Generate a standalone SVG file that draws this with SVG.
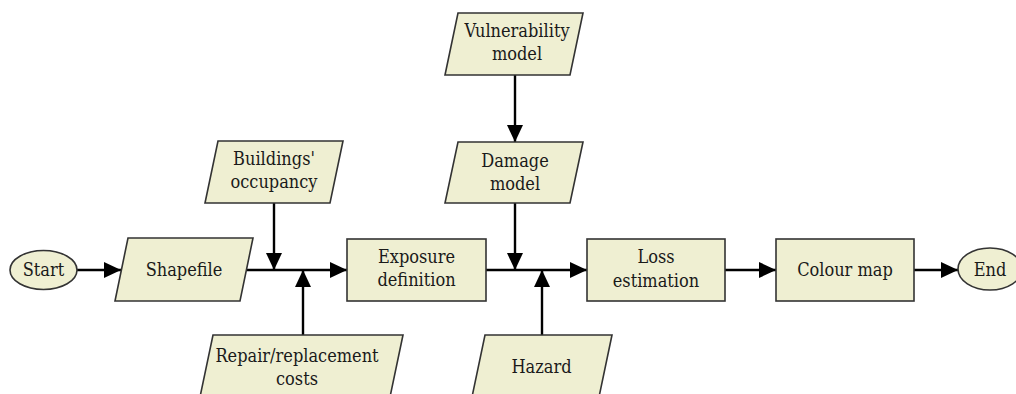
<svg xmlns="http://www.w3.org/2000/svg" width="1016" height="394" viewBox="0 0 1016 394">
<style>
.n{fill:#efefd2;stroke:#333;stroke-width:1.6}
.t{font-family:"DejaVu Serif Condensed","DejaVu Serif","Liberation Serif",serif;font-stretch:condensed;font-size:18px;fill:#1a1a1a;text-anchor:middle}
.c{stroke:#000;stroke-width:2.4;fill:none;marker-end:url(#ah)}
</style>
<defs>
<marker id="ah" markerUnits="userSpaceOnUse" markerWidth="18" markerHeight="16" refX="17" refY="8" orient="auto">
<path d="M0,0 L17,8 L0,16 Z" fill="#000"/>
</marker>
</defs>
<rect width="1016" height="394" fill="#fff"/>
<g id="connectors">
<line class="c" x1="77" y1="270" x2="121" y2="270"/>
<line class="c" x1="247" y1="270" x2="347" y2="270"/>
<line class="c" x1="274" y1="203" x2="274" y2="270"/>
<line class="c" x1="303" y1="335" x2="303" y2="270"/>
<line class="c" x1="515" y1="75" x2="515" y2="142"/>
<line class="c" x1="515" y1="203" x2="515" y2="270"/>
<line class="c" x1="486" y1="270" x2="587" y2="270"/>
<line class="c" x1="542" y1="335" x2="542" y2="270"/>
<line class="c" x1="725" y1="270" x2="776" y2="270"/>
<line class="c" x1="914" y1="270" x2="958" y2="270"/>
</g>
<g id="start">
<ellipse class="n" cx="43.5" cy="270" rx="33.5" ry="19.5"/>
<text class="t" x="43.5" y="276">Start</text>
</g>
<g id="shapefile">
<polygon class="n" points="128,238 253,238 240,301 115,301"/>
<text class="t" x="184" y="276">Shapefile</text>
</g>
<g id="buildings">
<polygon class="n" points="218,141 343,141 330,203 205,203"/>
<text class="t" x="274" y="165">Buildings'</text>
<text class="t" x="274" y="188">occupancy</text>
</g>
<g id="repair">
<polygon class="n" points="213,335 403,335 390,397 200,397"/>
<text class="t" x="297" y="362">Repair/replacement</text>
<text class="t" x="297" y="385">costs</text>
</g>
<g id="exposure">
<rect class="n" x="347" y="239" width="139" height="62"/>
<text class="t" x="416.5" y="263">Exposure</text>
<text class="t" x="416.5" y="286">definition</text>
</g>
<g id="vulnerability">
<polygon class="n" points="458,13 583,13 570,75 445,75"/>
<text class="t" x="517" y="37">Vulnerability</text>
<text class="t" x="517" y="60">model</text>
</g>
<g id="damage">
<polygon class="n" points="458,142 583,142 570,203 445,203"/>
<text class="t" x="515" y="167">Damage</text>
<text class="t" x="515" y="190">model</text>
</g>
<g id="hazard">
<polygon class="n" points="485,335 612,335 599,397 472,397"/>
<text class="t" x="541.5" y="373">Hazard</text>
</g>
<g id="loss">
<rect class="n" x="587" y="239" width="138" height="62"/>
<text class="t" x="656" y="263">Loss</text>
<text class="t" x="656" y="287">estimation</text>
</g>
<g id="colour">
<rect class="n" x="776" y="239" width="138" height="62"/>
<text class="t" x="845" y="276">Colour map</text>
</g>
<g id="end">
<ellipse class="n" cx="990" cy="269" rx="32" ry="21"/>
<text class="t" x="990" y="276">End</text>
</g>
</svg>
